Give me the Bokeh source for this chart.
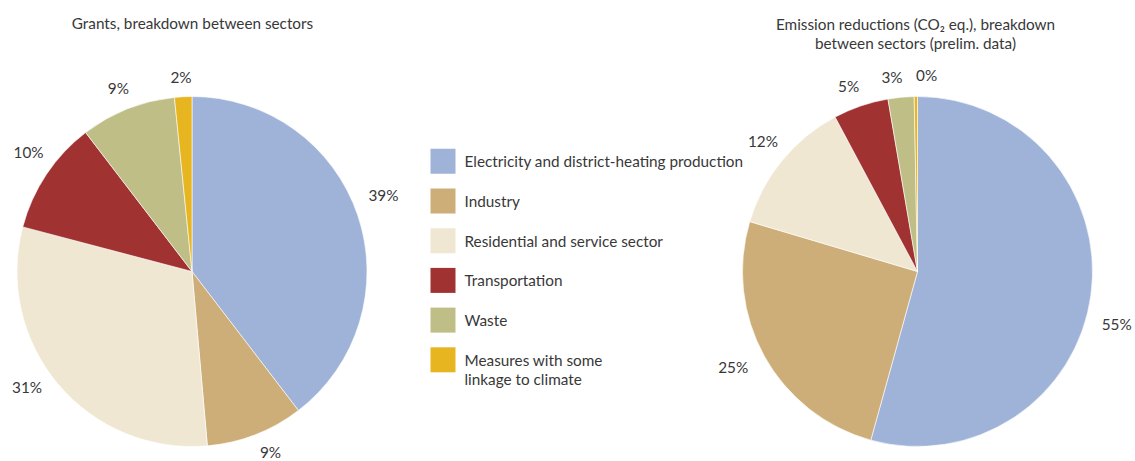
import math
from bokeh.plotting import figure
from bokeh.models import Range1d, ColumnDataSource
from bokeh.core.properties import value
from bokeh.embed import file_html
from bokeh.resources import INLINE

# ---- data ----
sectors = ["Electricity and district-heating production", "Industry",
           "Residential and service sector", "Transportation", "Waste",
           "Measures with some\nlinkage to climate"]
colors = ["#9fb3d8", "#cdae78", "#f0e7d2", "#a13232", "#bfbe86", "#e6b520"]

grants_values = [39.6, 9.0, 30.5, 10.5, 8.8, 1.6]
grants_labels = ["39%", "9%", "31%", "10%", "9%", "2%"]

emission_values = [54.3, 25.3, 12.6, 5.1, 2.4, 0.3]
emission_labels = ["55%", "25%", "12%", "5%", "3%", "0%"]

title_left = "Grants, breakdown between sectors"
title_right = ["Emission reductions (CO\u2082 eq.), breakdown", "between sectors (prelim. data)"]

# ---- layout / style ----
W, H = 1135, 461
FONT = value("Lato")
FS = "15.3px"
TXT = "#383838"
R = 175


def Y(img_y):
    return H - img_y


p = figure(width=W, height=H, output_backend="svg", toolbar_location=None,
           x_range=Range1d(0, W), y_range=Range1d(0, H),
           min_border=0, min_border_left=0, min_border_right=0,
           min_border_top=0, min_border_bottom=0)
p.axis.visible = False
p.grid.visible = False
p.outline_line_color = None
p.background_fill_color = "white"
p.border_fill_color = "white"


def draw_pie(cx, cy, vals, labels, label_r, nudges):
    """nudges are label offsets in screen pixels (dx right, dy down)."""
    total = float(sum(vals))
    starts, ends, lx, ly = [], [], [], []
    cum = 0.0
    for v, (ndx, ndy) in zip(vals, nudges):
        a0 = math.pi / 2 - 2 * math.pi * cum / total
        cum += v
        a1 = math.pi / 2 - 2 * math.pi * cum / total
        starts.append(a0)
        ends.append(a1)
        mid = (a0 + a1) / 2
        lx.append(cx + label_r * math.cos(mid) + ndx)
        ly.append(Y(cy) + label_r * math.sin(mid) - ndy)
    src = ColumnDataSource(dict(s=starts, e=ends, c=colors))
    p.wedge(x=cx, y=Y(cy), radius=R, start_angle="s", end_angle="e",
            direction="clock", fill_color="c", line_color="white",
            line_width=0.6, source=src)
    p.text(x=lx, y=ly, text=labels, text_align="center", text_baseline="middle",
           text_font=FONT, text_font_size=FS, text_color=TXT)


draw_pie(191.5, 271, grants_values, grants_labels, 200,
         [(2, -12), (6, -6), (-12, -13), (3, -9), (0, 2), (-1, 5)])
draw_pie(917, 271, emission_values, emission_labels, 197,
         [(4, 26), (-12, 0), (-2, -6), (-5, 1), (-7, 2), (11, 0)])

# titles
p.text(x=[192], y=[Y(22)], text=[title_left], text_align="center",
       text_baseline="middle", text_font=FONT, text_font_size=FS, text_color=TXT)
p.text(x=[915, 915], y=[Y(23), Y(42)], text=title_right, text_align="center",
       text_baseline="middle", text_font=FONT, text_font_size=FS, text_color=TXT)

# legend
leg_img_y = [160.8 + 39.7 * i for i in range(len(sectors))]
p.rect(x=442.5, y=[Y(v) for v in leg_img_y], width=25, height=25,
       fill_color=colors, line_color=None)
ty = list(leg_img_y)
ty[-1] = 369
p.text(x=464, y=[Y(v) for v in ty], text=sectors, text_align="left",
       text_baseline="middle", text_font=FONT, text_font_size=FS,
       text_color=TXT, text_line_height=1.03)

open("out.html", "w").write(file_html(p, INLINE))
